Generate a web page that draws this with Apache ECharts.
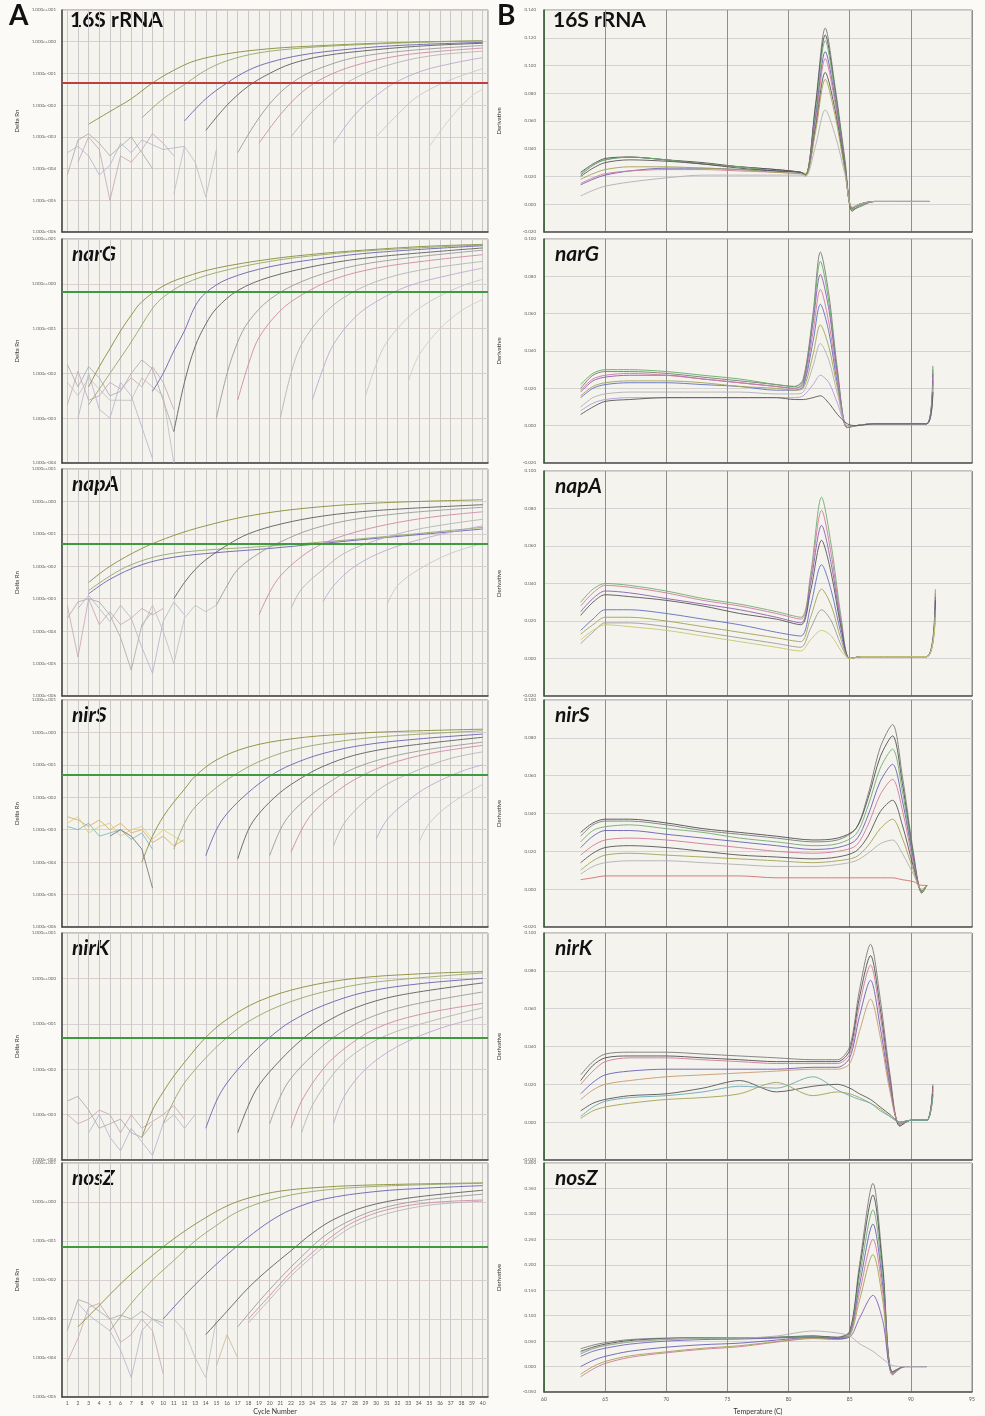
<!DOCTYPE html>
<html><head><meta charset="utf-8">
<script src="https://cdn.jsdelivr.net/npm/echarts/dist/echarts.min.js"></script>
<style>html,body{margin:0;padding:0;background:#fbfaf7}#c{width:985px;height:1416px}</style>
</head><body><div id="c"></div>
<script>
// ---------------- DATA ----------------
const geneNames = ['16S rRNA','narG','napA','nirS','nirK','nosZ'];
const cycleTicks = [1,2,3,4,5,6,7,8,9,10,11,12,13,14,15,16,17,18,19,20,21,22,23,24,25,26,27,28,29,30,31,32,33,34,35,36,37,38,39,40];
const tempTicks = [60,65,70,75,80,85,90,95];
// log10(Delta Rn) axis ranges per gene
const ampLogRange = [[-6,1],[-4,1],[-6,1],[-6,1],[-4,1],[-5,1]];
// threshold, log10(Delta Rn)
const thresholdLog10 = [-1.27,-0.18,-1.31,-1.31,-1.31,-1.18];
// derivative axis ranges [min,max,step]
const meltRange = [[-0.02,0.14,0.02],[-0.02,0.10,0.02],[-0.02,0.10,0.02],[-0.02,0.10,0.02],[-0.02,0.10,0.02],[-0.05,0.40,0.05]];

// amplification curves: [cycle, log10(Delta Rn)]
const amp_16S = [
 [[3,-2.6],[5,-2.2],[7,-1.8],[9,-1.3],[11,-0.9],[13,-0.6],[16,-0.38],[20,-0.22],[25,-0.12],[30,-0.05],[35,0.0],[40,0.03]],
 [[8,-2.4],[10,-1.8],[12,-1.35],[14,-0.9],[16,-0.6],[19,-0.35],[23,-0.2],[28,-0.1],[34,-0.02],[40,0.03]],
 [[12,-2.5],[14,-1.8],[16,-1.3],[18,-0.9],[20,-0.65],[23,-0.42],[27,-0.25],[32,-0.12],[40,-0.02]],
 [[14,-2.8],[16,-2.0],[18,-1.4],[20,-1.0],[22,-0.7],[25,-0.45],[30,-0.25],[35,-0.12],[40,-0.05]],
 [[17,-3.5],[19,-2.4],[21,-1.6],[23,-1.1],[25,-0.8],[28,-0.5],[33,-0.28],[40,-0.12]],
 [[19,-3.2],[21,-2.3],[23,-1.6],[25,-1.15],[28,-0.75],[32,-0.45],[36,-0.3],[40,-0.2]],
 [[22,-3.0],[24,-2.2],[26,-1.6],[28,-1.15],[31,-0.75],[35,-0.45],[40,-0.3]],
 [[26,-3.2],[28,-2.3],[30,-1.7],[32,-1.25],[35,-0.85],[40,-0.5]],
 [[30,-3.0],[32,-2.3],[34,-1.7],[37,-1.2],[40,-0.85]],
 [[35,-3.3],[37,-2.4],[39,-1.7],[40,-1.5]]
];
const noise_16S = [
 [[1,-4.2],[2,-3.1],[3,-2.9],[4,-3.2],[5,-3.6],[6,-3.3],[7,-3.0],[8,-3.5],[9,-4.0]],
 [[2,-3.8],[3,-3.0],[4,-3.4],[5,-5.0],[6,-3.6],[7,-3.8],[8,-3.4],[9,-2.9],[10,-3.2],[11,-3.6]],
 [[1,-3.5],[2,-3.3],[3,-3.6],[4,-4.2],[5,-3.9],[6,-3.2],[7,-3.5],[8,-3.1],[10,-3.4],[12,-3.3]],
 [[11,-4.8],[12,-3.3],[13,-3.8],[14,-4.9],[15,-3.4]]
];
const amp_narG = [
 [[3,-2.3],[4,-1.85],[5,-1.45],[6,-1.05],[7,-0.7],[8,-0.4],[10,-0.05],[12,0.15],[15,0.35],[20,0.55],[25,0.68],[30,0.77],[35,0.84],[40,0.88]],
 [[3,-2.7],[5,-2.0],[7,-1.3],[9,-0.55],[10,-0.3],[12,0.0],[15,0.25],[20,0.5],[25,0.65],[30,0.75],[40,0.87]],
 [[9,-2.4],[10,-2.0],[11,-1.5],[12,-1.05],[13,-0.5],[14,-0.2],[16,0.1],[20,0.38],[25,0.57],[30,0.7],[40,0.85]],
 [[11,-3.3],[12,-2.2],[13,-1.4],[14,-0.9],[15,-0.55],[17,-0.15],[20,0.15],[25,0.43],[30,0.6],[40,0.8]],
 [[15,-3.0],[16,-2.0],[17,-1.3],[18,-0.85],[20,-0.35],[23,0.05],[27,0.35],[32,0.55],[40,0.75]],
 [[17,-2.6],[18,-1.8],[19,-1.2],[21,-0.6],[23,-0.25],[26,0.1],[30,0.35],[35,0.52],[40,0.65]],
 [[21,-3.0],[22,-2.0],[23,-1.35],[25,-0.7],[27,-0.3],[30,0.05],[34,0.3],[40,0.5]],
 [[24,-2.6],[25,-1.9],[26,-1.35],[28,-0.75],[30,-0.4],[33,-0.05],[37,0.2],[40,0.35]],
 [[29,-2.5],[30,-1.8],[31,-1.3],[33,-0.75],[35,-0.4],[38,-0.05],[40,0.1]],
 [[33,-2.2],[34,-1.6],[36,-1.0],[38,-0.6],[40,-0.35]]
];
const noise_narG = [
 [[1,-1.8],[2,-2.3],[3,-1.85],[4,-2.1],[5,-2.5],[6,-2.4],[7,-2.0],[8,-1.7],[9,-1.9],[10,-2.6],[11,-3.3]],
 [[1,-2.7],[2,-1.95],[3,-2.6],[4,-2.5],[5,-2.2],[6,-2.35],[7,-2.1],[8,-2.3],[9,-1.85],[10,-2.2],[11,-2.8]],
 [[2,-3.0],[3,-2.0],[4,-2.8],[5,-3.0],[6,-2.2],[7,-2.5],[8,-3.2],[9,-3.9]],
 [[1,-2.2],[2,-2.5],[3,-2.1],[5,-2.6],[7,-2.6],[8,-2.1],[10,-2.5],[11,-4.0]]
];
const amp_napA = [
 [[3,-2.5],[5,-2.0],[8,-1.45],[11,-1.05],[14,-0.75],[18,-0.45],[23,-0.22],[30,-0.05],[40,0.05]],
 [[3,-2.75],[5,-2.3],[7,-1.95],[10,-1.65],[14,-1.5],[18,-1.42],[25,-1.25],[32,-1.05],[40,-0.8]],
 [[3,-2.85],[5,-2.4],[8,-1.95],[11,-1.72],[15,-1.58],[20,-1.45],[28,-1.2],[40,-0.85]],
 [[11,-3.0],[12,-2.5],[13,-2.1],[14,-1.8],[16,-1.35],[18,-1.0],[21,-0.7],[25,-0.45],[30,-0.28],[40,-0.1]],
 [[15,-3.2],[16,-2.6],[17,-2.1],[19,-1.6],[21,-1.25],[24,-0.85],[28,-0.55],[33,-0.35],[40,-0.18]],
 [[19,-3.5],[20,-2.8],[21,-2.3],[23,-1.7],[25,-1.3],[28,-0.95],[32,-0.65],[36,-0.45],[40,-0.32]],
 [[22,-3.3],[23,-2.7],[25,-2.1],[27,-1.6],[30,-1.2],[34,-0.85],[40,-0.55]],
 [[25,-3.1],[26,-2.6],[28,-2.0],[31,-1.5],[35,-1.1],[40,-0.75]],
 [[31,-3.2],[32,-2.6],[34,-2.1],[37,-1.6],[40,-1.3]]
];
const noise_napA = [
 [[1,-3.6],[2,-3.1],[3,-3.0],[4,-3.1],[5,-3.5],[6,-4.2],[7,-5.2],[8,-3.8],[9,-3.4]],
 [[1,-3.2],[2,-4.8],[3,-3.0],[4,-3.8],[5,-3.4],[6,-3.8],[7,-3.6],[8,-3.3],[9,-3.5],[10,-3.3]],
 [[2,-3.3],[3,-2.9],[4,-3.3],[5,-3.7],[6,-3.2],[7,-3.6],[8,-4.5],[9,-5.3],[10,-3.7],[11,-3.1],[12,-3.5]],
 [[8,-3.9],[9,-3.2],[10,-4.0],[11,-5.0],[12,-3.6],[13,-3.2],[14,-3.4],[15,-3.2]]
];
const amp_nirS = [
 [[8,-4.0],[9,-3.2],[10,-2.6],[11,-2.15],[12,-1.75],[13,-1.35],[15,-0.85],[18,-0.45],[22,-0.2],[27,-0.05],[32,0.03],[40,0.1]],
 [[11,-3.6],[12,-2.8],[13,-2.3],[15,-1.7],[17,-1.25],[19,-0.9],[22,-0.55],[26,-0.3],[31,-0.12],[40,0.05]],
 [[14,-3.8],[15,-3.0],[16,-2.5],[18,-1.85],[20,-1.35],[22,-1.0],[25,-0.65],[29,-0.38],[34,-0.2],[40,-0.05]],
 [[17,-3.9],[18,-3.0],[19,-2.5],[21,-1.85],[23,-1.4],[25,-1.05],[28,-0.7],[32,-0.45],[40,-0.15]],
 [[20,-3.8],[21,-3.0],[22,-2.5],[24,-1.9],[26,-1.45],[28,-1.1],[31,-0.78],[35,-0.52],[40,-0.3]],
 [[22,-3.7],[23,-3.0],[24,-2.5],[26,-1.9],[28,-1.45],[31,-1.0],[35,-0.65],[40,-0.4]],
 [[26,-3.5],[27,-2.8],[29,-2.1],[31,-1.6],[34,-1.15],[37,-0.8],[40,-0.6]],
 [[30,-3.3],[31,-2.7],[33,-2.1],[35,-1.65],[38,-1.2],[40,-1.0]],
 [[34,-3.4],[35,-2.8],[37,-2.2],[40,-1.6]]
];
const noise_nirS = [
 [[1,-2.6],[2,-2.7],[3,-2.9],[4,-2.7],[5,-3.0],[6,-2.8],[7,-3.1],[8,-3.0],[9,-3.4],[10,-3.2],[11,-3.5],[12,-3.3]],
 [[1,-2.8],[2,-2.6],[3,-3.1],[4,-2.9],[5,-2.8],[6,-3.2],[7,-3.0],[8,-2.9],[9,-3.3],[10,-3.0],[12,-3.4]],
 [[1,-2.9],[2,-3.0],[3,-2.8],[4,-3.2],[5,-3.1],[6,-3.0],[7,-3.3],[8,-3.1],[9,-3.6]],
 [[5,-3.2],[6,-3.0],[7,-3.2],[8,-3.6],[9,-4.8]]
];
const amp_nirK = [
 [[8,-3.5],[9,-2.9],[10,-2.5],[11,-2.15],[12,-1.85],[14,-1.3],[16,-0.9],[19,-0.5],[23,-0.2],[28,0.0],[34,0.1],[40,0.15]],
 [[10,-3.2],[11,-2.7],[12,-2.3],[14,-1.75],[16,-1.3],[18,-0.95],[21,-0.6],[25,-0.3],[30,-0.08],[40,0.12]],
 [[14,-3.3],[15,-2.7],[16,-2.3],[18,-1.75],[20,-1.3],[22,-0.95],[25,-0.6],[29,-0.3],[34,-0.12],[40,0.0]],
 [[17,-3.4],[18,-2.8],[19,-2.35],[21,-1.8],[23,-1.35],[25,-1.0],[28,-0.65],[32,-0.38],[40,-0.1]],
 [[20,-3.2],[21,-2.6],[22,-2.2],[24,-1.7],[26,-1.3],[29,-0.9],[33,-0.6],[40,-0.3]],
 [[22,-3.3],[23,-2.7],[25,-2.0],[27,-1.55],[30,-1.1],[34,-0.8],[40,-0.55]],
 [[23,-3.4],[24,-2.8],[26,-2.1],[28,-1.65],[31,-1.25],[35,-0.95],[40,-0.65]],
 [[26,-3.2],[27,-2.6],[29,-2.0],[32,-1.5],[36,-1.1],[40,-0.85]]
];
const noise_nirK = [
 [[1,-2.7],[2,-2.6],[3,-2.9],[4,-3.3],[5,-3.2],[6,-3.1],[7,-3.4],[8,-3.5],[9,-3.2]],
 [[1,-3.0],[2,-3.2],[3,-3.1],[4,-2.9],[5,-3.0],[6,-3.4],[7,-3.0],[8,-3.3],[10,-3.0],[11,-2.8],[12,-3.1]],
 [[3,-3.4],[4,-3.0],[5,-3.5],[6,-3.8],[7,-3.3],[8,-3.6],[9,-3.9],[10,-3.2],[11,-3.0],[12,-3.3],[13,-3.0]]
];
const amp_nosZ = [
 [[2,-3.2],[4,-2.65],[6,-2.1],[8,-1.6],[10,-1.15],[12,-0.75],[14,-0.4],[16,-0.1],[18,0.1],[21,0.28],[25,0.38],[30,0.44],[40,0.49]],
 [[5,-3.3],[7,-2.6],[9,-2.0],[11,-1.5],[13,-1.0],[15,-0.6],[17,-0.25],[20,0.05],[24,0.27],[30,0.4],[40,0.48]],
 [[10,-3.0],[12,-2.4],[14,-1.85],[16,-1.35],[18,-0.9],[20,-0.5],[22,-0.2],[25,0.07],[30,0.27],[35,0.36],[40,0.42]],
 [[14,-3.4],[16,-2.8],[18,-2.2],[20,-1.7],[22,-1.25],[24,-0.8],[26,-0.45],[29,-0.12],[33,0.1],[40,0.3]],
 [[17,-3.2],[19,-2.55],[21,-1.95],[23,-1.4],[25,-0.9],[27,-0.55],[30,-0.2],[34,0.03],[40,0.2]],
 [[18,-3.0],[20,-2.4],[22,-1.8],[24,-1.3],[26,-0.85],[28,-0.5],[31,-0.2],[35,-0.02],[40,0.05]],
 [[18,-3.1],[20,-2.5],[22,-1.9],[24,-1.4],[26,-0.95],[28,-0.6],[31,-0.3],[35,-0.08],[40,0.02]]
];
const noise_nosZ = [
 [[1,-3.3],[2,-2.5],[3,-2.6],[4,-2.8],[5,-3.0],[6,-2.9],[7,-3.0],[8,-2.8],[9,-3.0],[10,-3.1]],
 [[1,-4.1],[2,-3.5],[3,-2.7],[4,-2.6],[5,-3.0],[6,-3.6],[7,-3.4],[8,-3.0],[9,-3.3],[10,-4.4]],
 [[2,-2.6],[3,-2.9],[4,-3.1],[5,-3.3],[6,-3.8],[7,-4.5],[8,-3.3],[9,-3.0],[10,-3.2]],
 [[11,-3.0],[12,-3.3],[13,-4.0],[14,-4.5],[15,-3.0]],
 [[15,-4.2],[16,-3.4],[17,-4.0]]
];

// melt curves: temperatures and derivative values
const T_16S = [63,64,65,67,70,73,76,79,81,81.4,82.2,83,83.8,84.6,85.2,85.8,87,89,91.5];
const melt_16S = [
 [0.021,0.028,0.032,0.034,0.032,0.029,0.027,0.025,0.023,0.021,0.072,0.127,0.085,0.033,-0.004,-0.002,0.002,0.002,0.002],
 [0.023,0.029,0.033,0.034,0.032,0.030,0.027,0.025,0.023,0.021,0.070,0.122,0.082,0.030,-0.005,-0.001,0.002,0.002,0.002],
 [0.022,0.029,0.032,0.034,0.032,0.029,0.027,0.024,0.023,0.022,0.065,0.118,0.080,0.030,-0.004,-0.001,0.002,0.002,0.002],
 [0.014,0.018,0.021,0.024,0.026,0.026,0.025,0.024,0.023,0.021,0.062,0.110,0.076,0.028,-0.003,0.000,0.002,0.002,0.002],
 [0.015,0.019,0.022,0.024,0.025,0.025,0.024,0.023,0.022,0.021,0.058,0.105,0.073,0.026,-0.003,0.000,0.002,0.002,0.002],
 [0.020,0.026,0.030,0.032,0.031,0.029,0.026,0.024,0.023,0.021,0.055,0.095,0.068,0.026,-0.003,0.000,0.002,0.002,0.002],
 [0.018,0.022,0.025,0.027,0.027,0.026,0.025,0.023,0.022,0.021,0.052,0.090,0.064,0.025,-0.003,0.000,0.002,0.002,0.002],
 [0.006,0.010,0.013,0.016,0.019,0.021,0.021,0.021,0.021,0.020,0.042,0.068,0.050,0.022,-0.002,0.000,0.002,0.002,0.002]
];
const T_narG = [63,64,65,67,70,73,76,79,80.5,81.2,82,82.6,83.3,84,84.8,85.5,87,89,91.3,91.8];
const melt_narG = [
 [0.020,0.027,0.029,0.029,0.028,0.026,0.024,0.022,0.021,0.025,0.060,0.093,0.070,0.030,-0.001,0.000,0.001,0.001,0.001,0.032],
 [0.022,0.028,0.030,0.030,0.029,0.027,0.025,0.022,0.021,0.024,0.058,0.088,0.066,0.028,-0.001,0.000,0.001,0.001,0.001,0.030],
 [0.018,0.024,0.026,0.027,0.027,0.025,0.023,0.021,0.020,0.023,0.055,0.081,0.062,0.027,-0.001,0.000,0.001,0.001,0.001,0.028],
 [0.019,0.025,0.027,0.028,0.027,0.025,0.023,0.021,0.020,0.022,0.050,0.073,0.055,0.025,-0.001,0.000,0.001,0.001,0.001,0.026],
 [0.015,0.020,0.022,0.023,0.023,0.022,0.021,0.019,0.019,0.021,0.045,0.065,0.050,0.022,-0.001,0.000,0.001,0.001,0.001,0.024],
 [0.016,0.021,0.023,0.024,0.024,0.023,0.021,0.020,0.019,0.020,0.038,0.054,0.042,0.020,-0.001,0.000,0.001,0.001,0.001,0.022],
 [0.010,0.015,0.017,0.018,0.018,0.018,0.018,0.017,0.017,0.018,0.032,0.044,0.035,0.017,0.000,0.000,0.001,0.001,0.001,0.020],
 [0.008,0.012,0.014,0.015,0.015,0.015,0.015,0.015,0.015,0.016,0.022,0.027,0.023,0.012,0.000,0.000,0.001,0.001,0.001,0.018],
 [0.006,0.010,0.013,0.014,0.015,0.015,0.015,0.015,0.014,0.014,0.015,0.016,0.012,0.006,0.001,0.000,0.001,0.001,0.001,0.018]
];
const T_napA = [63,64,65,67,70,73,76,79,81,81.8,82.7,83.5,84.3,85,86,88,91.3,92];
const melt_napA = [
 [0.030,0.037,0.040,0.039,0.036,0.032,0.029,0.025,0.022,0.045,0.086,0.060,0.022,0.000,0.001,0.001,0.001,0.037],
 [0.028,0.035,0.039,0.038,0.035,0.031,0.028,0.024,0.021,0.043,0.079,0.055,0.020,0.000,0.001,0.001,0.001,0.035],
 [0.025,0.032,0.036,0.035,0.032,0.029,0.026,0.022,0.019,0.040,0.071,0.050,0.018,0.000,0.001,0.001,0.001,0.033],
 [0.023,0.030,0.034,0.033,0.031,0.028,0.024,0.021,0.018,0.036,0.063,0.045,0.016,0.000,0.001,0.001,0.001,0.031],
 [0.015,0.021,0.026,0.026,0.024,0.021,0.018,0.014,0.012,0.028,0.050,0.036,0.013,0.000,0.001,0.001,0.001,0.028],
 [0.013,0.018,0.022,0.022,0.020,0.017,0.014,0.011,0.009,0.022,0.037,0.028,0.010,0.000,0.001,0.001,0.001,0.026],
 [0.008,0.014,0.019,0.019,0.017,0.014,0.011,0.008,0.006,0.016,0.026,0.020,0.007,0.000,0.001,0.001,0.001,0.024],
 [0.010,0.015,0.018,0.017,0.015,0.012,0.009,0.006,0.004,0.010,0.015,0.012,0.004,0.000,0.001,0.001,0.001,0.022]
];
const T_nirS = [63,64,65,67,70,73,76,79,82,84,85.5,86.5,87.5,88.5,89.3,90.2,90.9,91.3];
const melt_nirS = [
 [0.028,0.034,0.036,0.036,0.034,0.031,0.029,0.027,0.025,0.026,0.032,0.050,0.075,0.087,0.060,0.020,-0.002,0.002],
 [0.030,0.035,0.037,0.037,0.035,0.032,0.030,0.028,0.026,0.027,0.032,0.048,0.070,0.081,0.056,0.018,-0.002,0.002],
 [0.025,0.031,0.033,0.034,0.032,0.030,0.027,0.025,0.023,0.024,0.029,0.044,0.064,0.074,0.052,0.017,-0.002,0.002],
 [0.022,0.028,0.031,0.031,0.029,0.027,0.025,0.023,0.021,0.022,0.026,0.039,0.057,0.066,0.047,0.016,-0.001,0.002],
 [0.018,0.023,0.026,0.027,0.026,0.024,0.022,0.020,0.019,0.020,0.023,0.034,0.050,0.058,0.042,0.014,-0.001,0.002],
 [0.014,0.019,0.022,0.023,0.022,0.020,0.018,0.017,0.016,0.017,0.020,0.028,0.041,0.047,0.034,0.012,-0.001,0.002],
 [0.010,0.015,0.018,0.019,0.018,0.017,0.016,0.015,0.014,0.015,0.017,0.023,0.032,0.037,0.027,0.010,-0.001,0.002],
 [0.008,0.012,0.014,0.015,0.015,0.014,0.013,0.012,0.012,0.013,0.015,0.019,0.024,0.026,0.019,0.008,0.000,0.002],
 [0.005,0.006,0.007,0.007,0.007,0.007,0.007,0.006,0.006,0.006,0.006,0.006,0.006,0.006,0.005,0.004,0.002,0.002]
];
const T_nirK = [63,64,65,67,70,73,76,79,82,84,85,85.8,86.7,87.5,88.3,89.1,90,91.3,91.8];
const melt_nirK = [
 [0.025,0.032,0.036,0.037,0.037,0.036,0.035,0.034,0.033,0.033,0.040,0.070,0.094,0.065,0.025,-0.002,0.001,0.001,0.020],
 [0.022,0.030,0.034,0.035,0.035,0.034,0.033,0.032,0.032,0.032,0.038,0.066,0.088,0.060,0.022,-0.002,0.001,0.001,0.019],
 [0.020,0.027,0.032,0.034,0.034,0.033,0.032,0.031,0.031,0.031,0.036,0.062,0.083,0.056,0.020,-0.001,0.001,0.001,0.018],
 [0.015,0.021,0.025,0.027,0.028,0.028,0.028,0.028,0.029,0.029,0.034,0.056,0.075,0.050,0.018,-0.001,0.001,0.001,0.017],
 [0.012,0.017,0.020,0.022,0.024,0.025,0.026,0.027,0.028,0.028,0.031,0.048,0.065,0.045,0.016,-0.001,0.001,0.001,0.016],
 [0.006,0.010,0.012,0.014,0.015,0.018,0.022,0.016,0.019,0.020,0.018,0.015,0.012,0.008,0.004,0.000,0.001,0.001,0.015],
 [0.002,0.006,0.008,0.010,0.012,0.013,0.015,0.021,0.014,0.016,0.015,0.013,0.010,0.007,0.003,0.000,0.001,0.001,0.014],
 [0.003,0.008,0.011,0.013,0.014,0.016,0.019,0.018,0.024,0.017,0.014,0.012,0.010,0.006,0.003,0.000,0.001,0.001,0.014]
];
const T_nosZ = [63,64,65,67,70,73,76,79,82,84,85,85.8,86.9,87.7,88.5,89.5,91.3];
const melt_nosZ = [
 [0.035,0.042,0.047,0.053,0.056,0.057,0.056,0.058,0.060,0.058,0.070,0.200,0.360,0.200,-0.010,0.000,0.000],
 [0.030,0.038,0.044,0.051,0.055,0.056,0.056,0.057,0.060,0.057,0.068,0.190,0.337,0.190,-0.012,0.000,0.000],
 [0.025,0.035,0.041,0.048,0.053,0.055,0.055,0.057,0.059,0.056,0.066,0.175,0.308,0.175,-0.014,0.000,0.000],
 [0.000,0.012,0.020,0.030,0.038,0.043,0.046,0.052,0.057,0.055,0.064,0.160,0.280,0.160,-0.016,0.000,0.000],
 [-0.020,-0.005,0.006,0.018,0.027,0.034,0.039,0.048,0.055,0.053,0.062,0.145,0.250,0.145,-0.016,0.000,0.000],
 [-0.015,0.000,0.010,0.021,0.029,0.036,0.041,0.049,0.056,0.054,0.060,0.130,0.220,0.130,-0.014,0.000,0.000],
 [0.020,0.030,0.036,0.044,0.050,0.053,0.054,0.056,0.058,0.055,0.058,0.095,0.140,0.090,-0.010,0.000,0.000],
 [0.028,0.036,0.042,0.049,0.054,0.056,0.056,0.060,0.070,0.066,0.060,0.045,0.030,0.015,0.002,0.000,0.000]
];

// ---------------- LAYOUT / STYLE ----------------
const ampAll = [amp_16S, amp_narG, amp_napA, amp_nirS, amp_nirK, amp_nosZ];
const noiseAll = [noise_16S, noise_narG, noise_napA, noise_nirS, noise_nirK, noise_nosZ];
const meltT = [T_16S, T_narG, T_napA, T_nirS, T_nirK, T_nosZ];
const meltAll = [melt_16S, melt_narG, melt_napA, melt_nirS, melt_nirK, melt_nosZ];

const L = {x:62, w:426, tops:[10,239,469,700,933,1163], hs:[222,224,227,227,227,237]};
const R = {x:544, w:428, tops:[10,239,471,700,933,1163], hs:[222,224,225,227,227,230]};
const ampColors = ['#8c8c3a','#93a868','#6a62b0','#5e5e5e','#9a9a9a','#d08aa8','#b5b5b5','#c0a8d0','#c8c8c8','#d8ccbc'];
const noiseColors = ['#a8a8a8','#c9a3b3','#b3b3cc','#bdbdbd','#c8b890'];
const nirSNoise = ['#d9a860','#d8d070','#70b8b8','#707070'];
const meltColorSets = [
 ['#7a7a7a','#4f4f4f','#6fae6f','#6a5fb5','#d07a9a','#555555','#a3a355','#b0b0b0'],
 ['#7a7a7a','#5fae5f','#8a5fb5','#d07a9a','#5f6fc0','#a3a355','#b0b0b0','#b49ad8','#555555'],
 ['#6fae6f','#d07a9a','#8a5fb5','#555555','#5f6fc0','#a3a355','#9a9a9a','#c8c870'],
 ['#7a7a7a','#4f4f4f','#6fae6f','#6a5fb5','#d07a9a','#555555','#a3a355','#b0b0b0','#d07070'],
 ['#7a7a7a','#4f4f4f','#d07a9a','#6a5fb5','#c89a70','#555555','#a3a355','#6aa8b0'],
 ['#7a7a7a','#4f4f4f','#6fae6f','#6a5fb5','#d07a9a','#a3a355','#7a62b8','#b0b0b0']
];
const FONT = 'Lato, "Liberation Sans", sans-serif';

function expLabel(v){
  const e = Math.round(Math.log10(v));
  const a = Math.abs(e);
  return '1.000e' + (e < 0 ? '-' : '+') + String(a).padStart(3,'0');
}

const grids = [], xAxes = [], yAxes = [], series = [], graphics = [];
for (let i = 0; i < 6; i++) {
  const last = i === 5;
  grids.push({left:L.x, top:L.tops[i], width:L.w, height:L.hs[i], show:true,
    backgroundColor:'#f4f3ee', borderColor:'#8a8a8a', borderWidth:1});
  xAxes.push({type:'value', gridIndex:i, min:0.5, max:40.5, splitNumber:40, minInterval:1, maxInterval:1,
    axisLine:{show:true, onZero:false, lineStyle:{color:'#444', width:1.5}},
    axisTick:{show:false},
    axisLabel:{show:last, fontSize:5, color:'#555', margin:4, fontFamily:FONT,
      formatter: v => (cycleTicks.indexOf(v) >= 0 ? String(v) : '')},
    splitLine:{show:true, lineStyle:{color:'#c9c9c9', width:1}},
    name: last ? 'Cycle Number' : '', nameLocation:'middle', nameGap:11,
    nameTextStyle:{fontSize:7, color:'#333', fontFamily:FONT}});
  yAxes.push({type:'log', logBase:10, gridIndex:i, min:Math.pow(10, ampLogRange[i][0]), max:Math.pow(10, ampLogRange[i][1]),
    splitNumber: ampLogRange[i][1]-ampLogRange[i][0],
    axisLine:{show:true, lineStyle:{color:'#444', width:1.5}},
    axisTick:{show:false},
    axisLabel:{fontSize:4.5, color:'#666', margin:6, fontFamily:FONT, formatter: expLabel},
    splitLine:{show:true, lineStyle:{color:'#d9cfcf', width:1}},
    name:'Delta Rn', nameLocation:'middle', nameGap:42, nameRotate:90,
    nameTextStyle:{fontSize:6, color:'#333', fontFamily:FONT}});

  const nc = i === 3 ? nirSNoise : noiseColors;
  noiseAll[i].forEach((pts, k) => series.push({type:'line', xAxisIndex:i, yAxisIndex:i, symbol:'none', silent:true,
    lineStyle:{width:0.9, color:nc[k % nc.length], opacity:0.9},
    data: pts.map(p => [p[0], Math.pow(10, p[1])])}));
  ampAll[i].forEach((pts, k) => series.push({type:'line', xAxisIndex:i, yAxisIndex:i, symbol:'none', silent:true, smooth:0.35,
    lineStyle:{width:1, color:ampColors[k % ampColors.length], opacity:0.9},
    data: pts.map(p => [p[0], Math.pow(10, p[1])])}));
  series.push({type:'line', xAxisIndex:i, yAxisIndex:i, symbol:'none', silent:true, data:[],
    markLine:{silent:true, symbol:'none', label:{show:false},
      lineStyle:{color: i===0 ? '#c43d3d' : '#3f9a3f', width:2, type:'solid'},
      data:[{yAxis: Math.pow(10, thresholdLog10[i])}]}});

  graphics.push({type:'text', left:i===0?70:72, top:L.tops[i]+(i===0?0:5),
    style:{text:geneNames[i], font:(i===0?'':'italic ')+'bold 21px '+FONT, fill:'#111'}});
}
for (let i = 0; i < 6; i++) {
  const g = 6 + i, last = i === 5;
  grids.push({left:R.x, top:R.tops[i], width:R.w, height:R.hs[i], show:true,
    backgroundColor:'#f4f3ee', borderColor:'#8a8a8a', borderWidth:1});
  xAxes.push({type:'value', gridIndex:g, min:tempTicks[0], max:tempTicks[tempTicks.length-1], interval:5,
    axisLine:{show:true, onZero:false, lineStyle:{color:'#555', width:1.5}},
    axisTick:{show:false},
    axisLabel:{show:last, fontSize:5, color:'#555', margin:5, fontFamily:FONT},
    splitLine:{show:true, lineStyle:{color:'#8e8e8e', width:1}},
    name: last ? 'Temperature (C)' : '', nameLocation:'middle', nameGap:16,
    nameTextStyle:{fontSize:7, color:'#333', fontFamily:FONT}});
  yAxes.push({type:'value', gridIndex:g, min:meltRange[i][0], max:meltRange[i][1], interval:meltRange[i][2],
    axisLine:{show:true, onZero:false, lineStyle:{color:'#2f5f2f', width:1.5}},
    axisTick:{show:false},
    axisLabel:{fontSize:4.5, color:'#666', margin:8, fontFamily:FONT, formatter: v => v.toFixed(3)},
    splitLine:{show:true, lineStyle:{color:'#d3d3d3', width:1}},
    name:'Derivative', nameLocation:'middle', nameGap:42, nameRotate:90,
    nameTextStyle:{fontSize:6, color:'#333', fontFamily:FONT}});
  const mc = meltColorSets[i];
  meltAll[i].forEach((vals, k) => series.push({type:'line', xAxisIndex:g, yAxisIndex:g, symbol:'none', silent:true, smooth:0.3,
    lineStyle:{width:1, color:mc[k % mc.length], opacity:0.9},
    data: vals.map((v, j) => [meltT[i][j], v])}));
  graphics.push({type:'text', left:i===0?553:555, top:R.tops[i]+(i===0?0:5),
    style:{text:geneNames[i], font:(i===0?'':'italic ')+'bold 21px '+FONT, fill:'#111'}});
}
graphics.push({type:'text', left:9, top:2, style:{text:'A', font:'bold 28px '+FONT, fill:'#111'}});
graphics.push({type:'text', left:497, top:2, style:{text:'B', font:'bold 28px '+FONT, fill:'#111'}});

const chart = echarts.init(document.getElementById('c'), null, {renderer:'canvas'});
chart.setOption({backgroundColor:'#fbfaf7', animation:false, grid:grids, xAxis:xAxes, yAxis:yAxes, series:series, graphic:graphics});
</script></body></html>
